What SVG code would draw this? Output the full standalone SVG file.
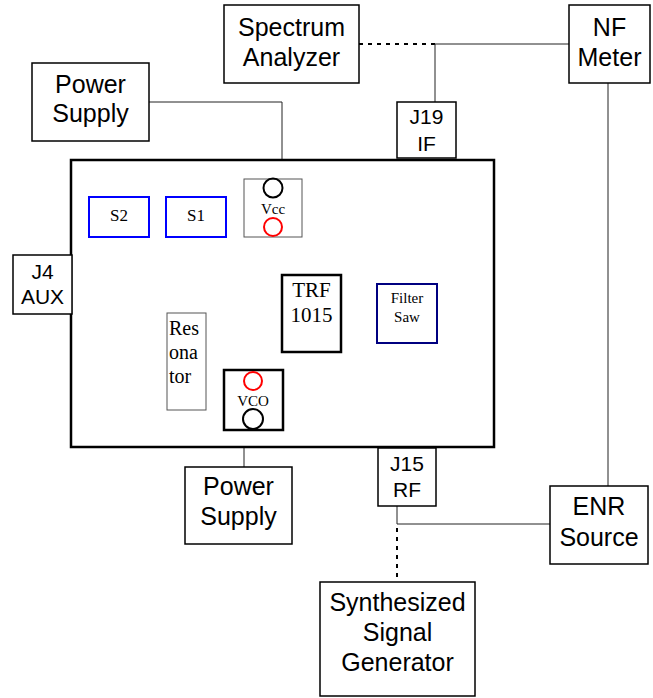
<svg xmlns="http://www.w3.org/2000/svg" width="653" height="698" viewBox="0 0 653 698">
<style>
.box{fill:#fff;stroke:#000;stroke-width:1.5}
.thick{fill:#fff;stroke:#000;stroke-width:2.5}
.thin{fill:#fff;stroke:#555;stroke-width:1}
.blue{fill:#fff;stroke:#0000ff;stroke-width:2}
.navy{fill:#fff;stroke:#000080;stroke-width:2}
.sans{font-family:"Liberation Sans",Arial,sans-serif;fill:#000;text-anchor:middle}
.serif{font-family:"Liberation Serif","Times New Roman",serif;fill:#000;text-anchor:middle}
.left{text-anchor:start}
.big{font-size:25px}
.mid{font-size:21px}
.wire{fill:none;stroke:#222;stroke-width:1}
.dot{fill:none;stroke:#000;stroke-width:2;stroke-dasharray:4 5}
</style>
<g id="connectors">
<polyline class="wire" points="149,102 282,102 282,179"/>
<polyline class="dot" points="359,44 435,44"/>
<polyline class="wire" points="435,44 569,44"/>
<polyline class="wire" points="435,44 435,102"/>
<polyline class="wire" points="608,83 608,486"/>
<polyline class="wire" points="244,430 244,467"/>
<polyline class="wire" points="397,506 397,524 550,524"/>
<polyline class="dot" points="397,528 397,582"/>
</g>
<g id="board"><rect class="thick" x="71" y="160" width="423" height="287"/></g>
<g id="spectrum-analyzer"><rect class="box" x="224" y="5" width="135" height="78"/>
<text class="sans big" x="291.5" y="36">Spectrum</text><text class="sans big" x="291.5" y="66">Analyzer</text></g>
<g id="nf-meter"><rect class="box" x="569" y="5" width="81" height="78"/>
<text class="sans big" x="609.5" y="36">NF</text><text class="sans big" x="609.5" y="66">Meter</text></g>
<g id="power-supply-top"><rect class="box" x="32" y="63" width="117" height="78"/>
<text class="sans big" x="90.5" y="93">Power</text><text class="sans big" x="90.5" y="122">Supply</text></g>
<g id="j19"><rect class="box" x="397" y="102" width="59" height="56"/>
<text class="sans mid" x="426.5" y="124">J19</text><text class="sans mid" x="426.5" y="151">IF</text></g>
<g id="j4"><rect class="box" x="13" y="255" width="59" height="59"/>
<text class="sans mid" x="42.5" y="279">J4</text><text class="sans mid" x="42.5" y="304">AUX</text></g>
<g id="s2"><rect class="blue" x="89" y="197" width="60" height="40"/><text class="serif" font-size="17" x="119" y="221">S2</text></g>
<g id="s1"><rect class="blue" x="166" y="197" width="60" height="40"/><text class="serif" font-size="17" x="196" y="221">S1</text></g>
<g id="vcc"><rect class="thin" x="244" y="179" width="58" height="58"/>
<circle cx="273" cy="188" r="9.5" fill="none" stroke="#000" stroke-width="2"/>
<text class="serif" font-size="15" x="273" y="214">Vcc</text>
<circle cx="273" cy="227" r="9" fill="none" stroke="#ff0000" stroke-width="2"/></g>
<g id="trf"><rect class="thick" x="282" y="275" width="59" height="77"/>
<text class="serif" font-size="21" x="311.5" y="297">TRF</text><text class="serif" font-size="21" x="311.5" y="322">1015</text></g>
<g id="filter-saw"><rect class="navy" x="377" y="284" width="60" height="59"/>
<text class="serif" font-size="15" x="407" y="303">Filter</text><text class="serif" font-size="15" x="407" y="322">Saw</text></g>
<g id="resonator"><rect class="thin" x="167" y="313" width="39" height="97"/>
<text class="serif left" font-size="20" x="169" y="335">Res</text>
<text class="serif left" font-size="20" x="169" y="359">ona</text>
<text class="serif left" font-size="20" x="169" y="383">tor</text></g>
<g id="vco"><rect class="thick" x="224" y="370" width="59" height="60"/>
<circle cx="253" cy="381" r="9" fill="none" stroke="#ff0000" stroke-width="2"/>
<text class="serif" font-size="15" x="253" y="406">VCO</text>
<circle cx="253" cy="419" r="10" fill="none" stroke="#000" stroke-width="2"/></g>
<g id="j15"><rect class="box" x="378" y="448" width="58" height="58"/>
<text class="sans mid" x="407" y="471">J15</text><text class="sans mid" x="407" y="497">RF</text></g>
<g id="power-supply-bottom"><rect class="box" x="185" y="467" width="107" height="77"/>
<text class="sans big" x="238.5" y="495">Power</text><text class="sans big" x="238.5" y="525">Supply</text></g>
<g id="enr-source"><rect class="box" x="550" y="486" width="98" height="78"/>
<text class="sans big" x="599" y="515">ENR</text><text class="sans big" x="599" y="546">Source</text></g>
<g id="synth"><rect class="box" x="320" y="582" width="155" height="114"/>
<text class="sans big" x="397.5" y="611">Synthesized</text><text class="sans big" x="397.5" y="641">Signal</text><text class="sans big" x="397.5" y="671">Generator</text></g>
</svg>
